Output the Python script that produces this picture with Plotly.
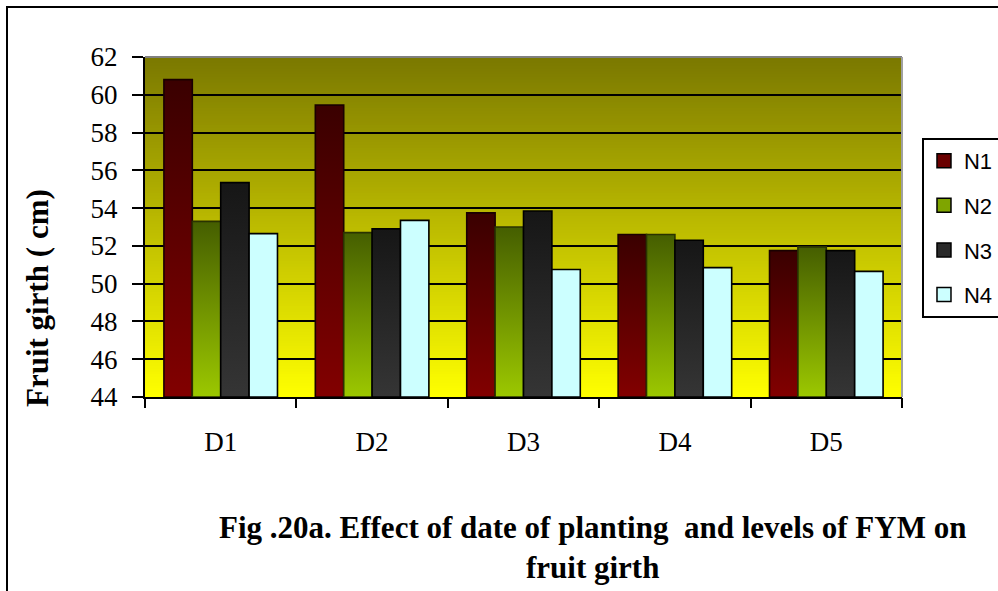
import plotly.graph_objects as go

# Fruit girth (cm) by date of planting (D1-D5) and FYM level (N1-N4)
dates = ["D1", "D2", "D3", "D4", "D5"]
levels = ["N1", "N2", "N3", "N4"]
n1 = [60.8, 59.45, 53.75, 52.6, 51.75]
n2 = [53.3, 52.7, 53.0, 52.6, 51.95]
n3 = [55.35, 52.9, 53.85, 52.3, 51.75]
n4 = [52.65, 53.35, 50.75, 50.85, 50.65]
series = [n1, n2, n3, n4]
y_ticks = list(range(44, 63, 2))

Y_MIN, Y_MAX = 44, 62
BAR_W = 0.1875

# (bottom colour, top colour) of each series' vertical gradient
grad = [
    ("#820000", "#3a0000"),
    ("#9cc800", "#455e00"),
    ("#353535", "#161616"),
    ("#ccffff", "#ccffff"),
]
outline = ["#1a0000", "#2a3300", "#000000", "#000000"]
legend_colors = ["#6a0000", "#7fa500", "#2a2a2a", "#ccffff"]

fig = go.Figure()

# vertical yellow-to-olive background, drawn as thin bands under the gridlines
def mix(c0, c1, t):
    return "rgb(%d,%d,%d)" % tuple(round(a + (b - a) * t) for a, b in zip(c0, c1))

bottom_rgb, top_rgb = (255, 255, 0), (122, 120, 0)
n_bands = 120
step = (Y_MAX - Y_MIN) / n_bands
for k in range(n_bands):
    t = (k + 0.5) / n_bands
    fig.add_shape(type="rect", xref="x", yref="y", layer="below",
                  x0=-0.5, x1=4.5, y0=Y_MIN + k * step,
                  y1=min(Y_MAX, Y_MIN + (k + 1) * step + step * 0.6),
                  fillcolor=mix(bottom_rgb, top_rgb, t), line_width=0)

# bars as gradient-filled rectangles
for j, (name, vals) in enumerate(zip(levels, series)):
    for i, v in enumerate(vals):
        c = i + (j - 1.5) * BAR_W
        x0, x1 = c - BAR_W / 2, c + BAR_W / 2
        fig.add_trace(go.Scatter(
            x=[x0, x0, x1, x1, x0], y=[Y_MIN, v, v, Y_MIN, Y_MIN],
            mode="lines", fill="toself",
            fillgradient=dict(type="vertical", start=Y_MIN, stop=v,
                              colorscale=[[0, grad[j][0]], [1, grad[j][1]]]),
            line=dict(color=outline[j], width=1.6),
            name=name, showlegend=False, hoverinfo="text",
            text=f"{dates[i]} {name}: {v}",
        ))

# legend entries
for j, name in enumerate(levels):
    fig.add_trace(go.Scatter(x=[None], y=[None], name=name, legendgroup=name,
                             mode="markers",
                             marker=dict(symbol="square", size=14, color=legend_colors[j],
                                         line=dict(color="black", width=1.5))))

# invisible trace carrying the boundary tick axis
fig.add_trace(go.Scatter(x=[None], y=[None], xaxis="x2", showlegend=False))

serif = "Liberation Serif"
fig.update_layout(
    width=998, height=591,
    margin=dict(l=145, r=96, t=57, b=194, autoexpand=False),
    paper_bgcolor="white", plot_bgcolor="white",
    showlegend=True,
    legend=dict(x=1.0264, y=0.762, xanchor="left", yanchor="top",
                bgcolor="white", bordercolor="black", borderwidth=2,
                font=dict(family="Liberation Sans", size=22, color="black"),
                tracegroupgap=13, itemwidth=30),
    xaxis=dict(range=[-0.5, 4.5], tickvals=list(range(len(dates))), ticktext=dates,
               ticks="", showgrid=False, zeroline=False,
               showline=True, linecolor="black", linewidth=2,
               tickfont=dict(family=serif, size=27, color="black"),
               ticklabelstandoff=20),
    xaxis2=dict(range=[-0.5, 4.5], overlaying="x", anchor="y", side="bottom",
                tickvals=[k - 0.5 for k in range(len(dates) + 1)],
                ticks="outside", ticklen=10, tickwidth=2, tickcolor="black",
                showticklabels=False, showgrid=False, zeroline=False),
    yaxis=dict(range=[Y_MIN, Y_MAX], tickvals=y_ticks, ticks="outside",
               ticklen=11, tickwidth=2, tickcolor="black",
               showgrid=True, gridcolor="black", gridwidth=1.6,
               zeroline=False, showline=True, linecolor="black", linewidth=2,
               tickfont=dict(family=serif, size=27, color="black"),
               ticklabelstandoff=9),
)

# plot frame (grey top/right edges)
fig.add_shape(type="line", xref="paper", yref="paper", x0=0, x1=1, y0=1, y1=1,
              line=dict(color="#808080", width=2))
fig.add_shape(type="line", xref="paper", yref="paper", x0=1, x1=1, y0=0, y1=1,
              line=dict(color="#a0a0a0", width=2))

# outer chart border
fig.add_shape(type="rect", xref="paper", yref="paper",
              x0=(7 - 145) / 757, x1=(1010 - 145) / 757,
              y0=(397 - 600) / 340, y1=(397 - 7) / 340,
              line=dict(color="black", width=2), fillcolor="rgba(0,0,0,0)")

fig.add_annotation(text="<b>Fruit girth ( cm)</b>", textangle=-90,
                   xref="paper", yref="paper", x=(37 - 145) / 757, y=(397 - 298) / 340,
                   xanchor="center", yanchor="middle",
                   showarrow=False, font=dict(family=serif, size=31, color="black"))

fig.add_annotation(text="<b>Fig .20a. Effect of date of planting  and levels of FYM on<br>fruit girth</b>",
                   xref="paper", yref="paper", x=(592 - 145) / 757, y=(397 - 547) / 340,
                   xanchor="center", yanchor="middle",
                   showarrow=False, align="center",
                   font=dict(family=serif, size=31, color="black"))

fig.write_html("out.html")
